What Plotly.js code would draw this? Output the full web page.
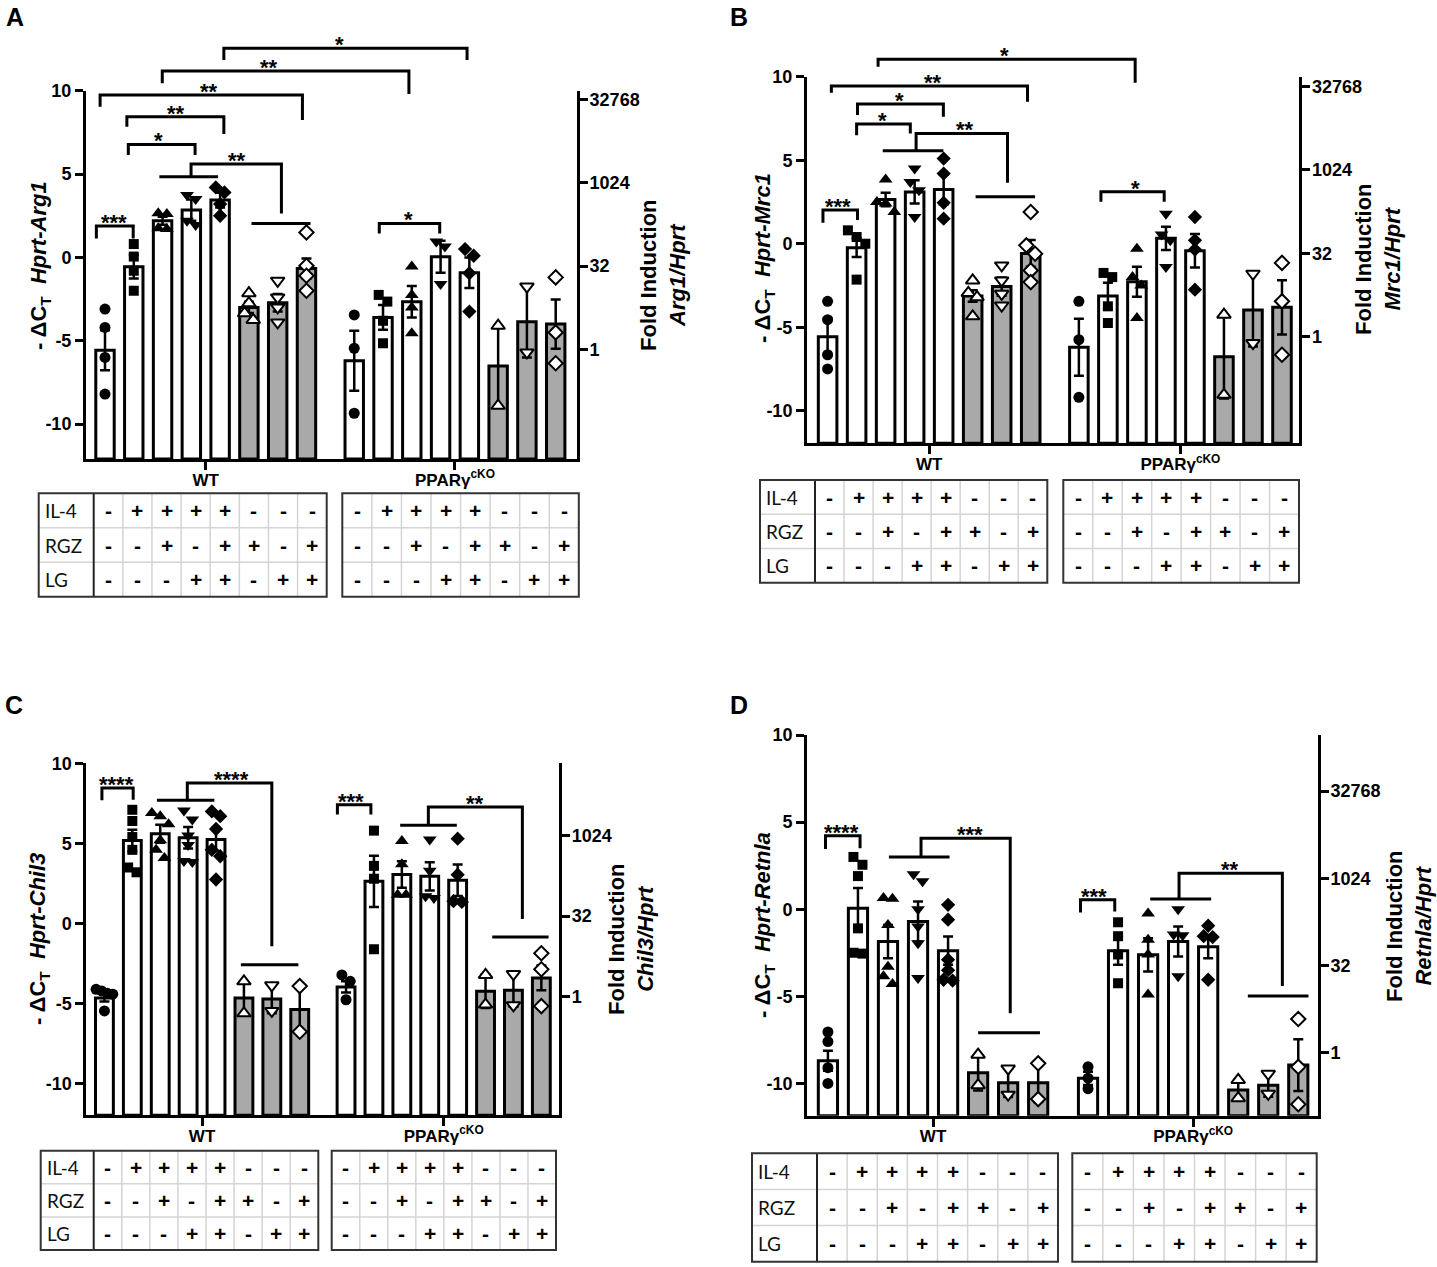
<!DOCTYPE html>
<html><head><meta charset="utf-8">
<script src="https://cdn.plot.ly/plotly-3.0.1.min.js"></script>
<style>html,body{margin:0;padding:0;background:#fff}</style>
</head><body>
<div id="chart" style="width:1437px;height:1267px"></div>
<script>
// ---------------- DATA ----------------
const GROUP_LABELS = ['WT', 'PPARγ<sup>cKO</sup>'];
const ROW_LABELS = ['IL-4', 'RGZ', 'LG'];
const IL4 = ['-', '+', '+', '+', '+', '-', '-', '-'];
const RGZ = ['-', '-', '+', '-', '+', '+', '-', '+'];
const LG  = ['-', '-', '-', '+', '+', '-', '+', '+'];
const LEFT_TICKS = [-10, -5, 0, 5, 10];
const RIGHT_TICKS = [1, 32, 1024, 32768];
const GENES = ['Arg1', 'Mrc1', 'Chil3', 'Retnla'];
const FOLD_OFFSET = [5.52, 5.57, 4.53, 8.22]; // -dCt of the reference group (log2 fold = -dCt + offset)

// Panel A (Arg1)
const A_WT_MEAN = [-5.57, -0.56, 2.2, 2.84, 3.44, -3.0, -2.72, -0.66];
const A_WT_SEM  = [1.2, 0.7, 0.24, 0.64, 0.44, 0.34, 0.52, 0.6];
const A_WT_PTS  = [[-3.1,-4.2,-6.0,-8.2],[0.8,0.05,-0.8,-2.0],[2.65,2.6,1.7,1.75],[3.75,3.5,2.2,1.95],[4.2,3.9,3.2,2.5],[-2.15,-2.75,-3.35,-3.75],[-1.4,-2.4,-3.0,-3.9],[1.5,-0.5,-1.1,-2.0]];
const A_KO_MEAN = [-6.2, -3.6, -2.66, 0.04, -0.92, -6.52, -3.86, -4.0];
const A_KO_SEM  = [1.8, 0.74, 0.94, 0.96, 0.92, 2.4, 2.14, 1.48];
const A_KO_PTS  = [[-3.45,-5.45,-9.35],[-2.65,-2.25,-3.8,-5.15],[-0.55,-2.25,-3.0,-4.55],[0.95,0.65,-1.6],[0.5,0.1,-0.95,-3.25],[-4.1,-8.9],[-1.75,-5.7],[-1.2,-4.5,-6.35]];

// Panel B (Mrc1)
const B_WT_MEAN = [-5.57, -0.24, 2.65, 3.1, 3.25, -3.13, -2.57, -0.58];
const B_WT_SEM  = [1.1, 0.56, 0.4, 0.7, 0.9, 0.35, 0.55, 0.8];
const B_WT_PTS  = [[-3.45,-4.55,-6.65,-7.5],[0.8,0.4,0.0,-2.15],[3.85,2.5,2.4,1.9],[4.5,3.7,3.2,1.6],[5.1,4.2,2.45,1.5],[-2.2,-2.95,-3.2,-4.35],[-1.3,-2.2,-3.0,-3.7],[1.9,-0.1,-0.6,-1.6,-2.3]];
const B_KO_MEAN = [-6.2, -3.13, -2.28, 0.32, -0.42, -6.77, -3.97, -3.81];
const B_KO_SEM  = [1.7, 0.79, 0.9, 0.7, 1.0, 2.5, 2.19, 1.62];
const B_KO_PTS  = [[-3.45,-5.75,-9.2],[-1.75,-2.0,-3.75,-4.75],[-0.3,-2.0,-2.5,-4.45],[1.8,0.55,0.2,-1.4],[1.6,0.2,-0.35,-2.75],[-4.25,-9.05],[-1.8,-5.95],[-1.15,-3.45,-6.65]];

// Panel C (Chil3)
const C_WT_MEAN = [-4.64, 5.18, 5.61, 5.36, 5.24, -4.64, -4.7, -5.36];
const C_WT_SEM  = [0.22, 0.68, 0.56, 0.67, 0.73, 1.04, 0.9, 1.45];
const C_WT_PTS  = [[-4.1,-4.2,-4.35,-4.4,-5.45],[7.1,6.4,5.4,4.6,3.5,3.2],[6.9,6.7,6.2,5.2,4.6,4.1],[7.05,6.5,5.5,4.9,3.9,3.85],[7.0,6.7,5.9,4.6,4.2,2.75],[-3.6,-5.6],[-3.85,-5.45],[-3.9,-6.75]];
const C_KO_MEAN = [-3.95, 2.64, 3.06, 2.95, 2.7, -4.22, -4.16, -3.39];
const C_KO_SEM  = [0.35, 1.6, 0.83, 0.88, 0.98, 1.04, 1.02, 0.77];
const C_KO_PTS  = [[-3.2,-3.6,-4.75],[5.8,3.6,2.8,-1.6],[5.15,3.7,1.8,1.8],[5.25,3.3,1.7,1.6],[5.3,3.05,1.4,1.35],[-3.2,-5.05],[-3.15,-5.1],[-1.85,-2.85,-5.15]];

// Panel D (Retnla)
const D_WT_MEAN = [-8.7, 0.06, -1.86, -0.71, -2.38, -9.39, -9.96, -9.96];
const D_WT_SEM  = [0.58, 1.15, 0.96, 1.15, 0.81, 1.02, 0.82, 1.11];
const D_WT_PTS  = [[-7.05,-7.6,-9.1,-10.0],[3.0,2.55,1.9,-1.1,-2.5,-2.55],[0.65,0.6,-0.9,-3.3,-3.85,-4.3],[2.0,1.6,0.0,-1.0,-1.95,-3.95],[0.25,-0.6,-2.9,-3.5,-4.05,-4.1],[-8.35,-10.1],[-9.15,-10.65],[-8.85,-10.9]];
const D_KO_MEAN = [-9.71, -2.38, -2.62, -1.86, -2.15, -10.38, -10.1, -8.95];
const D_KO_SEM  = [0.38, 0.81, 0.95, 0.86, 0.67, 0.57, 0.67, 1.48];
const D_KO_PTS  = [[-9.05,-9.7,-10.3],[-0.75,-1.55,-2.6,-4.25],[-0.25,-1.75,-2.6,-4.9],[0.0,-1.45,-1.5,-3.85],[-0.95,-1.55,-1.6,-4.05],[-9.8,-10.85],[-9.45,-10.6],[-6.3,-9.05,-11.2]];

// Significance brackets: [x1, x2, yTop, yLeftEnd, yRightEnd, label, labelX]
const A_BRACKETS = [[-0.3,0.98,1.88,1.14,1.14,'***',0.3],[0.81,3.13,6.78,6.14,6.14,'*',1.85],[0.76,4.13,8.44,7.84,7.4,'**',2.48],[-0.17,6.86,9.74,9.04,8.24,'**',3.62],[2.99,6.13,5.6,4.84,2.64,'**',4.6],[1.99,10.56,11.18,10.44,9.8,'**',5.7],[4.13,12.58,12.54,11.84,11.84,'*',8.16],[9.53,11.63,2.04,1.44,1.44,'*',10.53]];
const A_GROUPLINES = [[1.89,3.93,4.84],[5.09,7.14,2.04]];
const B_BRACKETS = [[-0.16,1.03,2.02,1.26,1.42,'***',0.37],[1.0,2.85,7.17,6.5,6.6,'*',1.9],[1.03,3.99,8.36,7.7,7.6,'*',2.49],[0.13,6.89,9.44,9.04,8.5,'**',3.64],[1.74,10.6,11.04,10.6,9.64,'*',6.1],[3.05,6.2,6.6,5.57,3.65,'**',4.75],[9.42,11.6,3.11,2.51,2.51,'*',10.6]];
const B_GROUPLINES = [[1.9,3.99,5.57],[5.1,7.15,2.81]];
const C_BRACKETS = [[-0.09,1.03,8.46,7.69,7.73,'****',0.45],[2.97,6.0,8.77,7.69,-1.41,'****',4.57],[8.35,9.55,7.42,6.8,6.8,'***',8.84],[11.61,14.98,7.28,6.13,0.29,'**',13.29]];
const C_GROUPLINES = [[1.88,3.94,7.69],[4.89,6.95,-2.56],[10.6,12.63,6.13],[13.9,15.92,-0.83]];
const D_BRACKETS = [[-0.08,1.07,4.21,3.45,3.5,'****',0.46],[3.1,6.07,4.08,2.99,-5.98,'***',4.74],[8.41,9.55,0.54,-0.19,-0.13,'***',8.87],[11.69,15.13,2.07,0.59,-4.41,'**',13.4]];
const D_GROUPLINES = [[2.03,4.05,2.99],[5.0,7.06,-7.09],[10.73,12.76,0.59],[13.98,16.0,-4.98]];

// ---------------- LAYOUT / STYLE ----------------
const W = 1437, H = 1267;
const KO_START = 8.66;
const FILLS = ['#ffffff','#ffffff','#ffffff','#ffffff','#ffffff','#a9a9a9','#a9a9a9','#a9a9a9'];
const SYMBOLS = ['circle','square','triangle-up','triangle-down','diamond','triangle-up','triangle-down','diamond'];
const OPEN = [false,false,false,false,false,true,true,true];
const SIZES = [11,10,12,12,11,12,12,11];
const FONT = 'Liberation Sans, Arial, Helvetica, sans-serif';
const TFONT = 'Lato, Carlito, Open Sans, sans-serif';

const PANELS = [
  {letter:'A', lp:[15,17], x0:86, x1:577, xr:[-0.66,16.4], yTop:90.7, ppu:16.67, ymin:-12.1,
   wm:A_WT_MEAN, ws:A_WT_SEM, wp:A_WT_PTS, km:A_KO_MEAN, ks:A_KO_SEM, kp:A_KO_PTS, br:A_BRACKETS, gl:A_GROUPLINES,
   yt:[40,266], rt:[663,275], tab:{top:493.3, bot:596.7, wt:[38.7,93.7,326.7], ko:[342.3,578.8]}},
  {letter:'B', lp:[739,17], x0:807, x1:1299.4, xr:[-0.71,16.26], yTop:76.7, ppu:16.7, ymin:-11.95,
   wm:B_WT_MEAN, ws:B_WT_SEM, wp:B_WT_PTS, km:B_KO_MEAN, ks:B_KO_SEM, kp:B_KO_PTS, br:B_BRACKETS, gl:B_GROUPLINES,
   yt:[764,258], rt:[1378,259], tab:{top:480, bot:582.7, wt:[760,815,1047.3], ko:[1063.3,1299]}},
  {letter:'C', lp:[14,705], x0:86.3, x1:559.2, xr:[-0.65,16.3], yTop:763.3, ppu:16.03, ymin:-11.95,
   wm:C_WT_MEAN, ws:C_WT_SEM, wp:C_WT_PTS, km:C_KO_MEAN, ks:C_KO_SEM, kp:C_KO_PTS, br:C_BRACKETS, gl:C_GROUPLINES,
   yt:[39,939], rt:[631,939], tab:{top:1150.7, bot:1250, wt:[40.7,93.7,318.3], ko:[331.7,556]}},
  {letter:'D', lp:[739,705], x0:807.2, x1:1317.8, xr:[-0.69,16.31], yTop:735, ppu:17.42, ymin:-11.85,
   wm:D_WT_MEAN, ws:D_WT_SEM, wp:D_WT_PTS, km:D_KO_MEAN, ks:D_KO_SEM, kp:D_KO_PTS, br:D_BRACKETS, gl:D_GROUPLINES,
   yt:[764,925], rt:[1409,926], tab:{top:1153.3, bot:1261.7, wt:[752,817,1058], ko:[1072.3,1316.7]}}
];

const px = p => p / W;
const py = p => 1 - p / H;

function swarm(vals, yppu) {
  const idx = vals.map((v, k) => k).sort((a, b) => vals[b] - vals[a]);
  const off = new Array(vals.length).fill(0);
  let cl = [idx[0]];
  const flush = () => {
    const n = cl.length, step = n > 1 ? Math.min(0.3, 0.6 / (n - 1)) : 0;
    cl.forEach((k, j) => { off[k] = (j - (n - 1) / 2) * step; });
  };
  for (let j = 1; j < idx.length; j++) {
    if ((vals[cl[cl.length - 1]] - vals[idx[j]]) * yppu < 9) cl.push(idx[j]);
    else { flush(); cl = [idx[j]]; }
  }
  flush();
  return off;
}

const data = [];
const layout = {
  width: W, height: H, margin: {l:0, r:0, t:0, b:0},
  paper_bgcolor: '#ffffff', plot_bgcolor: 'rgba(0,0,0,0)',
  font: {family: FONT, color: '#000'},
  showlegend: false, shapes: [], annotations: []
};

PANELS.forEach((P, i) => {
  const xid = i === 0 ? 'x' : 'x' + (i + 1);
  const yl = 2 * i + 1, yr = 2 * i + 2;
  const ylid = yl === 1 ? 'y' : 'y' + yl, yrid = 'y' + yr;
  const xkey = 'xaxis' + (i === 0 ? '' : i + 1), ylkey = 'yaxis' + (yl === 1 ? '' : yl), yrkey = 'yaxis' + yr;
  const yBot = P.yTop + (10 - P.ymin) * P.ppu;
  const ydom = [1 - yBot / H, 1 - P.yTop / H];
  const vp = v => ydom[0] + (v - P.ymin) / (10 - P.ymin) * (ydom[1] - ydom[0]);
  const off = FOLD_OFFSET[i];

  layout[xkey] = {domain: [px(P.x0), px(P.x1)], anchor: ylid, range: P.xr, showgrid: false, zeroline: false,
    showline: true, linecolor: '#000', linewidth: 3, ticks: 'outside', ticklen: 8, tickwidth: 3, tickcolor: '#000',
    ticklabelstandoff: -5,
    tickvals: [3.5, KO_START + 3.5], ticktext: GROUP_LABELS, tickfont: {size: 17, weight: 'bold', family: FONT}, fixedrange: true};
  layout[ylkey] = {domain: ydom, anchor: xid, range: [P.ymin, 10], showgrid: false, zeroline: false,
    showline: true, linecolor: '#000', linewidth: 3, ticks: 'outside', ticklen: 8, tickwidth: 3, tickcolor: '#000',
    tickvals: LEFT_TICKS, ticktext: LEFT_TICKS.map(String), tickfont: {size: 18, weight: 'bold', family: FONT}, fixedrange: true};
  layout[yrkey] = {overlaying: ylid, side: 'right', anchor: xid, type: 'log',
    range: [Math.log10(Math.pow(2, P.ymin + off)), Math.log10(Math.pow(2, 10 + off))],
    showgrid: false, zeroline: false, showline: true, linecolor: '#000', linewidth: 3,
    ticks: 'outside', ticklen: 8, tickwidth: 3, tickcolor: '#000', ticklabelstandoff: -2,
    tickvals: RIGHT_TICKS, ticktext: RIGHT_TICKS.map(String), tickfont: {size: 18, weight: 'bold', family: FONT}, fixedrange: true};

  const xs = [], means = [], sems = [], fills = [];
  const ptx = [], pty = [], psym = [], pcol = [], plw = [], psz = [];
  [[P.wm, P.ws, P.wp, 0], [P.km, P.ks, P.kp, KO_START]].forEach(([m, s, pts, start]) => {
    m.forEach((v, k) => {
      const xc = start + k;
      xs.push(xc); means.push(v); sems.push(s[k]); fills.push(FILLS[k]);
      const offs = swarm(pts[k], P.ppu);
      pts[k].forEach((pv, j) => {
        ptx.push(xc + offs[j]); pty.push(pv);
        psym.push(SYMBOLS[k]); pcol.push(OPEN[k] ? '#ffffff' : '#000000');
        plw.push(OPEN[k] ? 2 : 0); psz.push(SIZES[k]);
      });
    });
  });

  data.push({type: 'bar', x: xs, y: means.map(v => v - P.ymin), base: P.ymin, width: 0.64,
    xaxis: xid, yaxis: ylid, marker: {color: fills, line: {color: '#000', width: 3}}, hoverinfo: 'skip'});
  data.push({type: 'scatter', mode: 'markers', x: xs, y: means, xaxis: xid, yaxis: ylid,
    marker: {size: 1, color: 'rgba(0,0,0,0)'}, hoverinfo: 'skip',
    error_y: {type: 'data', array: sems, visible: true, color: '#000', thickness: 2.5, width: 5}});
  data.push({type: 'scatter', mode: 'markers', x: ptx, y: pty, xaxis: xid, yaxis: ylid, cliponaxis: false,
    marker: {symbol: psym, size: psz, color: pcol, opacity: 1, line: {color: '#000', width: plw}}, hoverinfo: 'skip'});
  // fold-induction view of the same bar means on the right (log2) axis, invisible, keeps that axis active
  data.push({type: 'scatter', mode: 'markers', x: xs, y: means.map(v => Math.pow(2, v + off)), xaxis: xid, yaxis: yrid,
    marker: {size: 1, color: 'rgba(0,0,0,0)'}, hoverinfo: 'skip'});

  // brackets
  P.br.forEach(b => {
    const [x1, x2, yt, ya, yb, lab, lx] = b;
    layout.shapes.push({type: 'path', xref: xid, yref: 'paper',
      path: `M ${x1},${vp(ya)} L ${x1},${vp(yt)} L ${x2},${vp(yt)} L ${x2},${vp(yb)}`,
      line: {color: '#000', width: 3}});
    layout.annotations.push({xref: xid, yref: 'paper', x: lx, y: vp(yt), yanchor: 'bottom', xanchor: 'center',
      yshift: -11, text: lab, showarrow: false, font: {size: 22, weight: 'bold', family: FONT}});
  });
  P.gl.forEach(g => {
    layout.shapes.push({type: 'line', xref: xid, yref: 'paper', x0: g[0], x1: g[1], y0: vp(g[2]), y1: vp(g[2]),
      line: {color: '#000', width: 3}});
  });

  // panel letter + titles
  layout.annotations.push({xref: 'paper', yref: 'paper', x: px(P.lp[0]), y: py(P.lp[1]), xanchor: 'center', yanchor: 'middle',
    text: P.letter, showarrow: false, font: {size: 25, weight: 'bold', family: FONT}});
  layout.annotations.push({xref: 'paper', yref: 'paper', x: px(P.yt[0]), y: py(P.yt[1]), xanchor: 'center', yanchor: 'middle',
    textangle: -90, showarrow: false, font: {size: 22, weight: 'bold', family: FONT},
    text: '- ΔC<sub>T</sub>\u00a0\u00a0<i>Hprt-' + GENES[i] + '</i>'});
  layout.annotations.push({xref: 'paper', yref: 'paper', x: px(P.rt[0]), y: py(P.rt[1]), xanchor: 'center', yanchor: 'middle',
    textangle: -90, showarrow: false, font: {size: 22, weight: 'bold', family: FONT},
    text: 'Fold Induction<br><i>' + GENES[i] + '/Hprt</i>'});

  // treatment tables
  const T = P.tab, rh = (T.bot - T.top) / 3;
  const rows = [IL4, RGZ, LG];
  const drawTable = (L, D, R, withLabels) => {
    const cw = (R - D) / 8;
    for (let r = 1; r < 3; r++) {
      layout.shapes.push({type: 'line', xref: 'paper', yref: 'paper', x0: px(L), x1: px(R), y0: py(T.top + r * rh), y1: py(T.top + r * rh),
        line: {color: '#d4d4d4', width: 1.5}});
    }
    for (let c = 1; c < 8; c++) {
      layout.shapes.push({type: 'line', xref: 'paper', yref: 'paper', x0: px(D + c * cw), x1: px(D + c * cw), y0: py(T.top), y1: py(T.bot),
        line: {color: '#d4d4d4', width: 1.5}});
    }
    if (withLabels) {
      layout.shapes.push({type: 'line', xref: 'paper', yref: 'paper', x0: px(D), x1: px(D), y0: py(T.top), y1: py(T.bot),
        line: {color: '#222', width: 2}});
      ROW_LABELS.forEach((lab, r) => layout.annotations.push({xref: 'paper', yref: 'paper', x: px(L + 4), y: py(T.top + (r + 0.5) * rh),
        xanchor: 'left', yanchor: 'middle', text: lab, showarrow: false, font: {size: 19, family: TFONT, color: '#111'}}));
    }
    layout.shapes.push({type: 'rect', xref: 'paper', yref: 'paper', x0: px(L), x1: px(R), y0: py(T.bot), y1: py(T.top),
      line: {color: '#333', width: 2}});
    rows.forEach((row, r) => row.forEach((s, c) => layout.annotations.push({xref: 'paper', yref: 'paper',
      x: px(D + (c + 0.5) * cw), y: py(T.top + (r + 0.5) * rh), xanchor: 'center', yanchor: 'middle',
      text: s, showarrow: false, font: {size: 21, weight: 'bold', family: FONT}})));
  };
  drawTable(T.wt[0], T.wt[1], T.wt[2], true);
  drawTable(T.ko[0], T.ko[0], T.ko[1], false);
});

Plotly.newPlot('chart', data, layout, {displayModeBar: false, staticPlot: true});
</script>
</body></html>
